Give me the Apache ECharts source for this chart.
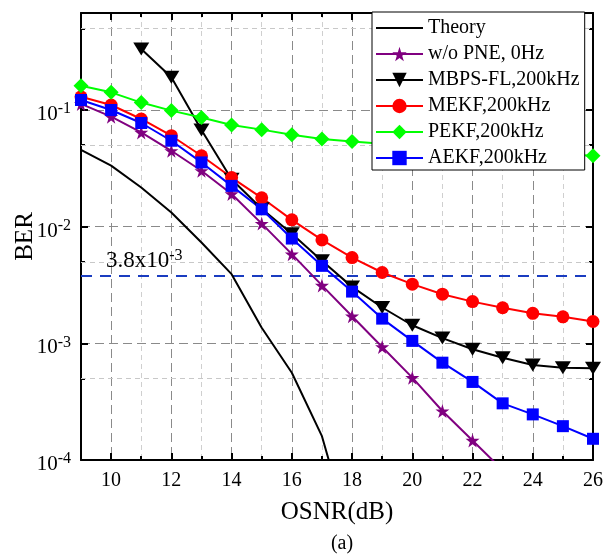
<!DOCTYPE html>
<html>
<head>
<meta charset="utf-8">
<script src="https://cdn.jsdelivr.net/npm/echarts@6/dist/echarts.min.js"></script>
<style>
  html, body { margin: 0; padding: 0; background: #fff; }
  #chart { width: 605px; height: 557px; }
</style>
</head>
<body>
<div id="chart"></div>
<script>
// OSNR (dB) 横轴
const osnr = [9, 10, 11, 12, 13, 14, 15, 16, 17, 18, 19, 20, 21, 22, 23, 24, 25, 26];
const majorX = [10, 12, 14, 16, 18, 20, 22, 24, 26];
const minorX = [11, 13, 15, 17, 19, 21, 23, 25];
const minorGrid = [5e-4, 5e-3, 5e-2, 5e-1];
const fecLimit = 3.8e-3;

// BER 曲线
const theory = [0.0457, 0.0334, 0.0217, 0.01324, 0.00732, 0.00392, 0.00136, 0.00056, 0.00016, 0.00002];
const noPne = [0.113, 0.0878, 0.0644, 0.0448, 0.0302, 0.0191, 0.01064, 0.00582, 0.00314, 0.00171,
  0.000932, 0.000508, 0.000263, 0.000147, 0.000082];
const mbpsX = [11, 12, 13, 14, 15, 16, 17, 18, 19, 20, 21, 22, 23, 24, 25, 26];
const mbps = [0.334, 0.191, 0.0675, 0.0255, 0.01426, 0.00869, 0.0051, 0.00305, 0.00203, 0.00143,
  0.00111, 0.00089, 0.000753, 0.000653, 0.000619, 0.000611];
const mekf = [0.130, 0.1106, 0.0839, 0.0603, 0.0406, 0.0264, 0.0177, 0.01146, 0.00771, 0.00544,
  0.00405, 0.00322, 0.00264, 0.00228, 0.00202, 0.00181, 0.00169, 0.00154];
const pekf = [0.162, 0.142, 0.116, 0.099, 0.0865, 0.0745, 0.068, 0.0615, 0.0565, 0.0539,
  0.0515, 0.049, 0.047, 0.0455, 0.044, 0.0428, 0.0418, 0.0406];
const aekf = [0.122, 0.1002, 0.0775, 0.0546, 0.0356, 0.0224, 0.0141, 0.00792, 0.00462, 0.00278,
  0.00163, 0.00105, 0.000683, 0.000467, 0.000306, 0.000246, 0.000195, 0.000152];

const serif = 'Liberation Serif';
const pair = (xs, ys) => ys.map((v, i) => [xs[i], v]);
const starPath = 'path://M50,0 L61,35 L98,35 L68,57 L79,91 L50,70 L21,91 L32,57 L2,35 L39,35 Z';

const chart = echarts.init(document.getElementById('chart'));

function xAx(pos, major, withLabel) {
  return {
    type: 'value', position: pos, min: 9, max: 26, interval: 1,
    axisLine: { show: major, onZero: false, lineStyle: { color: '#000', width: 2 } },
    axisTick: { show: true, inside: true, length: major ? 7 : 4,
      customValues: major ? majorX : minorX, lineStyle: { color: '#000', width: 2 } },
    axisLabel: { show: withLabel, customValues: majorX, color: '#000', fontFamily: serif, fontSize: 20, margin: 11 },
    splitLine: { show: pos === 'bottom', lineStyle: major
      ? { color: '#8a8a8a', type: [9, 5], width: 1 }
      : { color: '#cfcfcf', type: [5, 4], width: 1 } },
    name: withLabel ? 'OSNR(dB)' : '', nameLocation: 'middle', nameGap: 40, nameMoveOverlap: false,
    nameTextStyle: { color: '#000', fontFamily: serif, fontSize: 25 }
  };
}

function yAx(pos, withLabel) {
  return {
    type: 'log', logBase: 10, position: pos, min: 1e-4, max: 0.68,
    axisLine: { show: true, lineStyle: { color: '#000', width: 2 } },
    axisTick: { show: true, inside: true, length: 7, lineStyle: { color: '#000', width: 2 } },
    axisLabel: {
      show: withLabel, margin: 10, padding: [6, 0, 0, 0],
      formatter: function (v) {
        const e = Math.log10(v);
        const r = Math.round(e);
        if (Math.abs(e - r) > 1e-6) return '';
        return '{b|10}{s|' + r + '}';
      },
      rich: {
        b: { fontFamily: serif, fontSize: 21, color: '#000', lineHeight: 24, verticalAlign: 'bottom' },
        s: { fontFamily: serif, fontSize: 16, color: '#000', lineHeight: 16, verticalAlign: 'top' }
      }
    },
    splitLine: { show: withLabel, lineStyle: { color: '#8a8a8a', type: [9, 5], width: 1 } },
    name: withLabel ? 'BER' : '', nameLocation: 'middle', nameGap: 43, nameMoveOverlap: false,
    nameTextStyle: { color: '#000', fontFamily: serif, fontSize: 25 }
  };
}

// 5x10^n 处的小刻度
function yMinor(pos) {
  return {
    type: 'log', logBase: 10, position: pos, min: 1e-4, max: 0.68,
    axisLine: { show: false },
    axisTick: { show: true, inside: true, length: 4, customValues: minorGrid, lineStyle: { color: '#000', width: 2 } },
    axisLabel: { show: false },
    splitLine: { show: false }
  };
}

const option = {
  animation: false,
  backgroundColor: '#fff',
  title: {
    text: '(a)', left: 337, top: 529, textAlign: 'center',
    textStyle: { color: '#000', fontFamily: serif, fontSize: 20, fontWeight: 'normal' }
  },
  grid: { left: 81, right: 12, top: 13, bottom: 97, outerBoundsMode: 'none', containLabel: false },
  legend: {
    orient: 'vertical', left: 372, top: 12, z: 10,
    padding: [6, 5, 2, 3], itemGap: 6, itemWidth: 47, itemHeight: 18,
    backgroundColor: '#fff', borderColor: '#000', borderWidth: 1, borderRadius: 0,
    textStyle: { color: '#000', fontFamily: serif, fontSize: 20, lineHeight: 18 },
    data: [{ name: 'Theory', itemStyle: { opacity: 0 }, lineStyle: { color: '#000', width: 2, type: 'solid', opacity: 1 } },
      'w/o PNE, 0Hz', 'MBPS-FL,200kHz', 'MEKF,200kHz', 'PEKF,200kHz', 'AEKF,200kHz']
  },
  xAxis: [xAx('bottom', true, true), xAx('bottom', false, false), xAx('top', true, false), xAx('top', false, false)],
  yAxis: [yAx('left', true), yAx('right', false), yMinor('left'), yMinor('right')],
  series: [
    {
      type: 'line', name: 'Theory', data: pair(osnr, theory), showSymbol: false, symbol: 'none',
      lineStyle: { color: '#000', width: 2 }, itemStyle: { color: '#000' },
      markLine: {
        silent: true, symbol: ['none', 'none'], animation: false, precision: 8, z: 1,
        data: minorGrid.map(v => ({ yAxis: v, label: { show: false },
          lineStyle: { color: '#c8c8c8', type: [5, 4], width: 1 } })).concat([{
          yAxis: fecLimit,
          lineStyle: { color: '#1a3cc0', type: [11, 8], width: 2 },
          label: {
            show: true, position: 'insideStartTop', distance: 3, padding: [0, 0, 0, 22],
            formatter: '{a|3.8x10}{s|-3}',
            rich: {
              a: { fontFamily: serif, fontSize: 23, color: '#000', lineHeight: 25, verticalAlign: 'bottom' },
              s: { fontFamily: serif, fontSize: 16, color: '#000', lineHeight: 16, verticalAlign: 'top' }
            }
          }
        }])
      }
    },
    {
      type: 'line', name: 'w/o PNE, 0Hz', data: pair(osnr, noPne), symbol: starPath, symbolSize: 14,
      lineStyle: { color: '#800080', width: 2 }, itemStyle: { color: '#800080' }
    },
    {
      type: 'line', name: 'MBPS-FL,200kHz', data: pair(mbpsX, mbps), symbol: 'triangle', symbolRotate: 180,
      symbolSize: [16, 13], lineStyle: { color: '#000', width: 2 }, itemStyle: { color: '#000' }
    },
    {
      type: 'line', name: 'MEKF,200kHz', data: pair(osnr, mekf), symbol: 'circle', symbolSize: 13,
      lineStyle: { color: '#ff0000', width: 2 }, itemStyle: { color: '#ff0000' }
    },
    {
      type: 'line', name: 'PEKF,200kHz', data: pair(osnr, pekf), symbol: 'diamond', symbolSize: 15,
      lineStyle: { color: '#00ff00', width: 2 }, itemStyle: { color: '#00ff00' }
    },
    {
      type: 'line', name: 'AEKF,200kHz', data: pair(osnr, aekf), symbol: 'rect', symbolSize: 12,
      lineStyle: { color: '#0000ff', width: 2 }, itemStyle: { color: '#0000ff' }
    }
  ]
};

chart.setOption(option);
</script>
</body>
</html>
